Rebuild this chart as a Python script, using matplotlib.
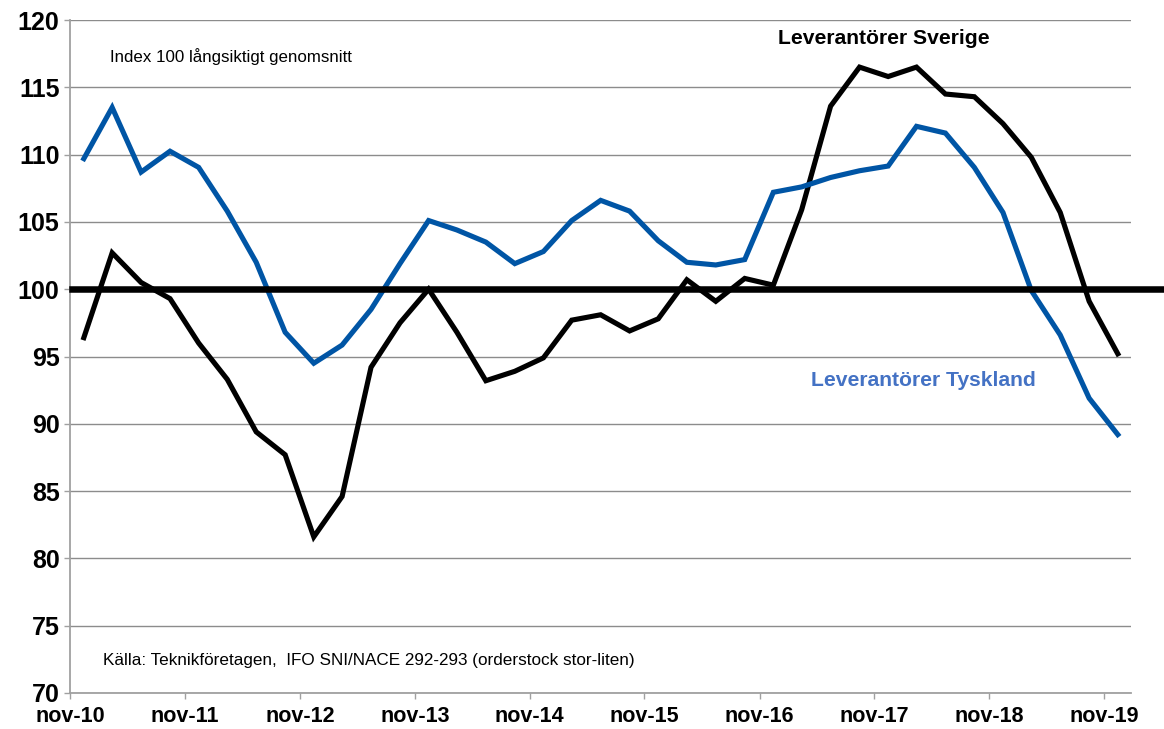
import numpy as np
import pandas as pd
import matplotlib
matplotlib.use("Agg")
import matplotlib.pyplot as plt

plt.rcParams['font.family'] = ['Liberation Sans', 'DejaVu Sans']

# Kvartalsdata, dec-10 .. dec-19
datum = pd.date_range('2010-12-15', periods=37, freq=pd.DateOffset(months=3))

sverige = [96.4, 102.7, 100.5, 99.3, 96.0, 93.3, 89.4, 87.7, 81.6, 84.6,
           94.2, 97.5, 100.0, 96.8, 93.2, 93.9, 94.9, 97.7, 98.1, 96.9,
           97.8, 100.7, 99.1, 100.8, 100.3, 105.9, 113.6, 116.5, 115.8, 116.5,
           114.5, 114.3, 112.3, 109.8, 105.7, 99.1, 95.2]

tyskland = [109.7, 113.5, 108.7, 110.25, 109.05, 105.8, 102.0, 96.8, 94.5, 95.85,
            98.5, 101.9, 105.1, 104.4, 103.5, 101.9, 102.8, 105.1, 106.6, 105.8,
            103.6, 102.0, 101.8, 102.2, 107.2, 107.6, 108.3, 108.8, 109.15, 112.1,
            111.6, 109.05, 105.7, 99.9, 96.6, 91.9, 89.2]

ar = list(range(2010, 2020))
tick_labels = ['nov-%02d' % (a % 100) for a in ar]

W, H = 1164, 729
fig = plt.figure(figsize=(W / 100, H / 100), dpi=100)
ax = fig.add_axes([70 / W, 1 - 693 / H, (1131 - 70) / W, (693 - 20) / H])

grey = '#8c8c8c'
ax.plot(datum, sverige, color='black', lw=3.7, solid_joinstyle='miter', zorder=3)
ax.plot(datum, tyskland, color='#0055a5', lw=3.7, solid_joinstyle='miter', zorder=3)
# index 100-linjen, går ut till kanten
ax.axhline(100, xmin=0.002, xmax=1.04, color='black', lw=4.7, clip_on=False, zorder=4)

ax.set_ylim(70, 120)
ax.set_yticks(np.arange(70, 121, 5))
ax.set_xlim(pd.Timestamp('2010-11-01'), pd.Timestamp('2020-01-26'))
ax.set_xticks([pd.Timestamp('%d-11-01' % a) for a in ar])
ax.set_xticklabels(tick_labels)

ax.grid(axis='y', color=grey, lw=1)
ax.set_axisbelow(True)
for s in ['top', 'right']:
    ax.spines[s].set_visible(False)
for s in ['left', 'bottom']:
    ax.spines[s].set_color('#a0a0a0')
    ax.spines[s].set_linewidth(1.3)
ax.tick_params(axis='both', direction='out', length=4.5, width=1, color='#a0a0a0')
ax.tick_params(axis='y', labelsize=18, pad=3)
ax.tick_params(axis='x', labelsize=15.5, pad=5)
for lab in ax.get_xticklabels() + ax.get_yticklabels():
    lab.set_fontweight('bold')

fig.text(110 / W, 1 - 57 / H, 'Index 100 långsiktigt genomsnitt', fontsize=12.2, va='center')
fig.text(103 / W, 1 - 660 / H, 'Källa: Teknikföretagen,  IFO SNI/NACE 292-293 (orderstock stor-liten)',
         fontsize=12.3, va='center')
fig.text(778 / W, 1 - 38 / H, 'Leverantörer Sverige', fontsize=15.2, fontweight='bold', va='center')
fig.text(811 / W, 1 - 381 / H, 'Leverantörer Tyskland', fontsize=15.2, fontweight='bold',
         color='#4472c4', va='center')

fig.savefig('out.png', dpi=100)
